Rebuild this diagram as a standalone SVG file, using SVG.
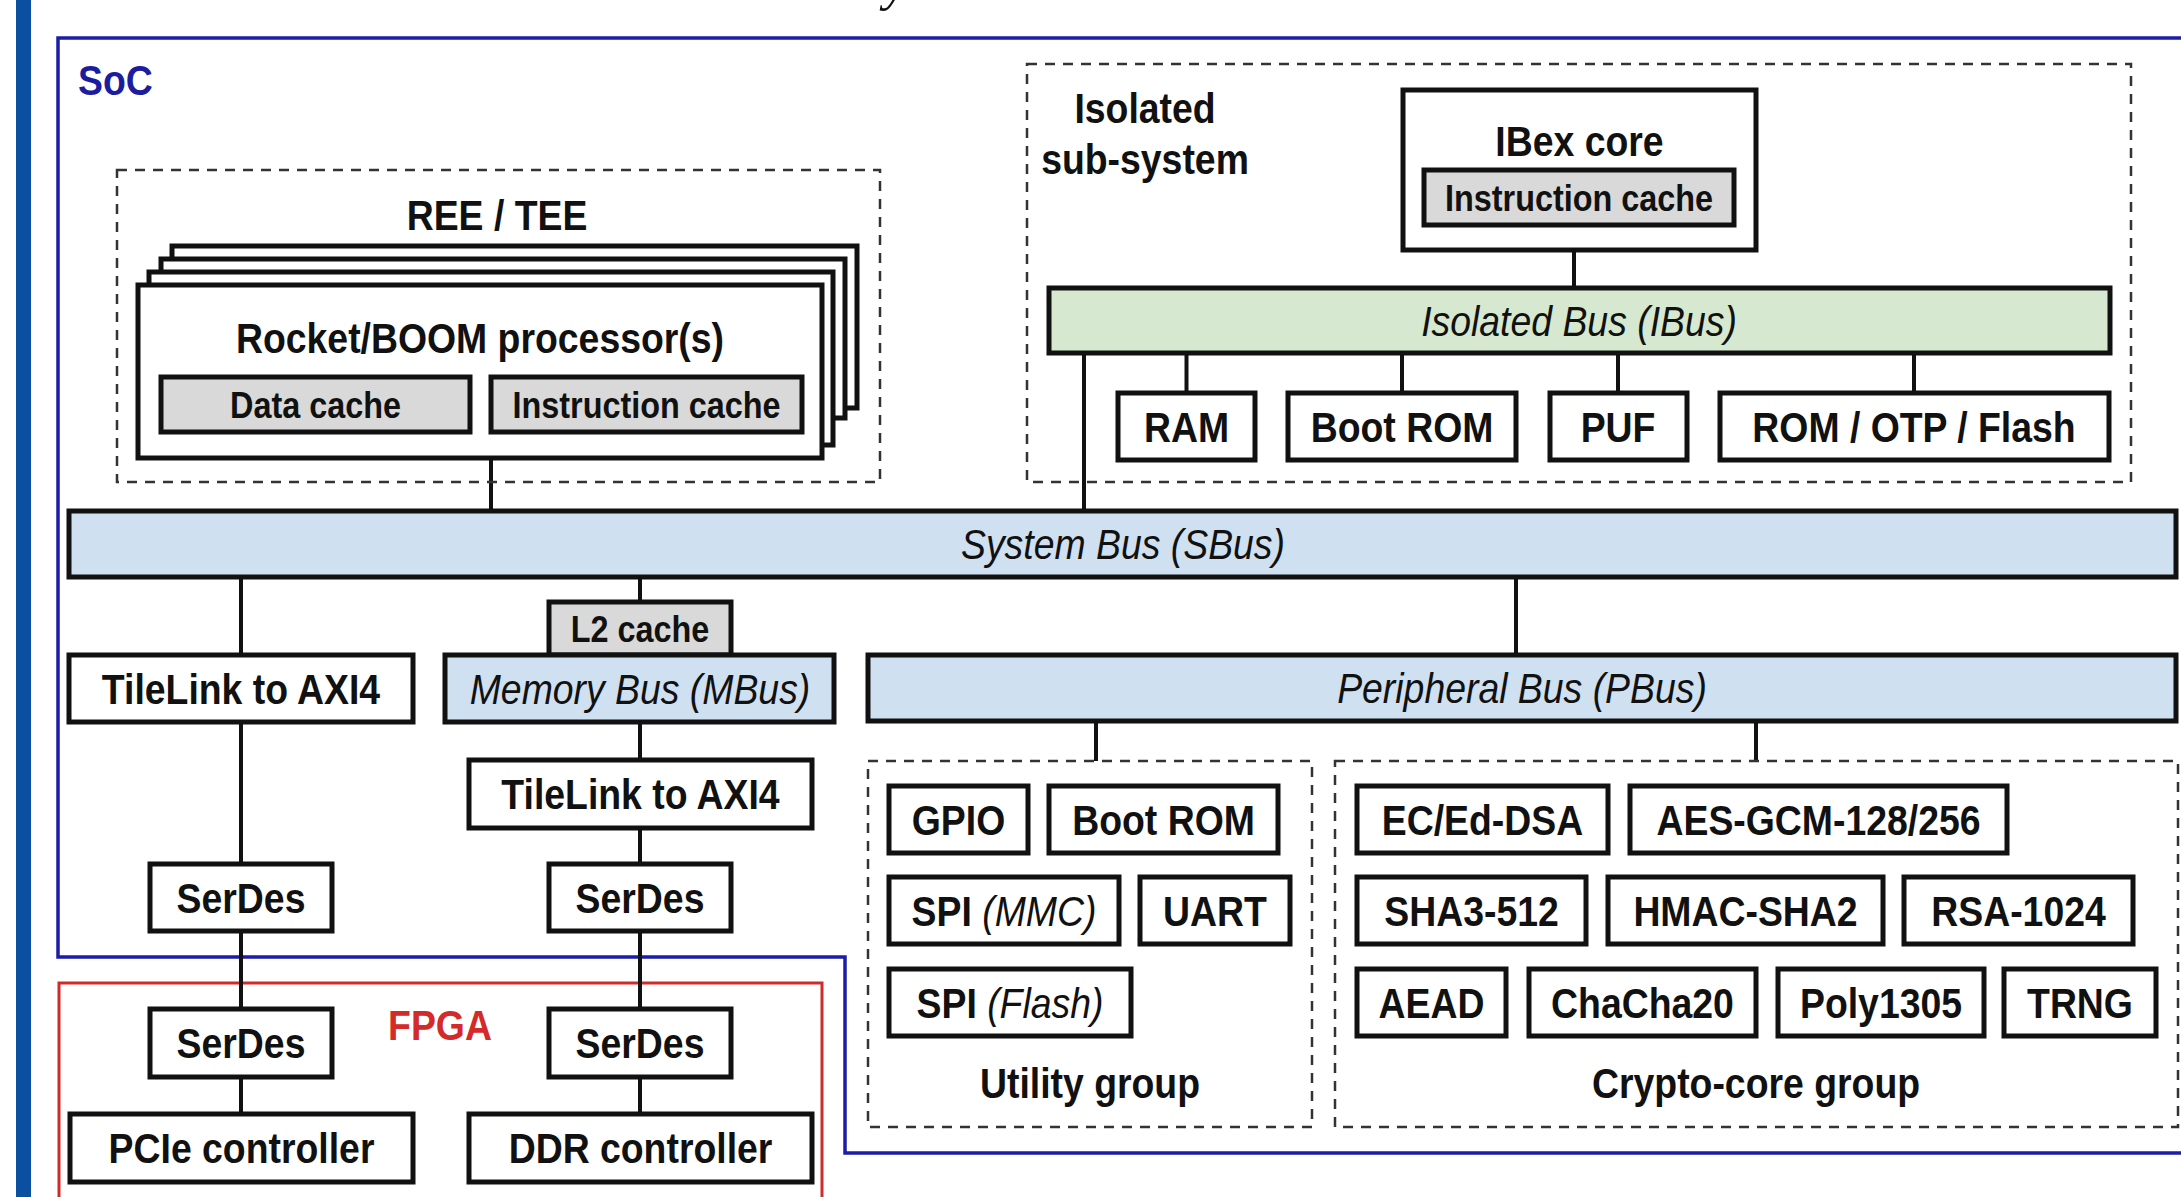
<svg xmlns="http://www.w3.org/2000/svg" width="2181" height="1197" viewBox="0 0 2181 1197">
<defs>
<style>
.bg{fill:#ffffff}
.box{fill:#ffffff;stroke:#111;stroke-width:5}
.gray{fill:#d9d9d9;stroke:#111;stroke-width:5}
.bus{fill:#cfe0f1;stroke:#111;stroke-width:5}
.ibus{fill:#d6e9d0;stroke:#111;stroke-width:5}
.dash{fill:none;stroke:#333;stroke-width:2.5;stroke-dasharray:10 8}
.wire{fill:none;stroke:#111;stroke-width:4}
.t{font-family:"Liberation Sans",Arial,sans-serif;font-weight:bold;font-size:42px;fill:#111;text-anchor:middle}
.sm{font-size:37px}
.it{font-style:italic;font-weight:normal}
</style>
</defs>
<rect class="bg" x="0" y="0" width="2181" height="1197"/>
<rect x="16" y="0" width="15" height="1197" fill="#0b50a0"/>
<text x="884" y="0" font-family="'Liberation Serif',serif" font-style="italic" font-size="52" fill="#111">y</text>

<g id="soc">
<path d="M2185 38 H58 V957 H845 V1153 H2185" fill="none" stroke="#1c1ca8" stroke-width="3.5"/>
<text class="t" transform="translate(78,95) scale(0.89,1)" style="text-anchor:start;fill:#1c1ca0">SoC</text>
</g>
<g id="fpga">
<path d="M59 1200 V983 H822 V1200" fill="none" stroke="#d02a2a" stroke-width="3"/>
<text class="t" transform="translate(440,1040) scale(0.89,1)" style="fill:#d42a2a">FPGA</text>
</g>

<g id="connectors">
<line class="wire" x1="491" y1="458" x2="491" y2="511"/>
<line class="wire" x1="1084" y1="353" x2="1084" y2="511"/>
<line class="wire" x1="1574" y1="250" x2="1574" y2="288"/>
<line class="wire" x1="1186.5" y1="353" x2="1186.5" y2="393"/>
<line class="wire" x1="1402" y1="353" x2="1402" y2="393"/>
<line class="wire" x1="1618" y1="353" x2="1618" y2="393"/>
<line class="wire" x1="1914" y1="353" x2="1914" y2="393"/>
<line class="wire" x1="241" y1="577" x2="241" y2="655"/>
<line class="wire" x1="640" y1="577" x2="640" y2="602"/>
<line class="wire" x1="640" y1="722" x2="640" y2="760"/>
<line class="wire" x1="640" y1="828" x2="640" y2="864"/>
<line class="wire" x1="241" y1="722" x2="241" y2="864"/>
<line class="wire" x1="241" y1="931" x2="241" y2="1009"/>
<line class="wire" x1="640" y1="931" x2="640" y2="1009"/>
<line class="wire" x1="241" y1="1077" x2="241" y2="1114"/>
<line class="wire" x1="640" y1="1077" x2="640" y2="1114"/>
<line class="wire" x1="1516" y1="577" x2="1516" y2="655"/>
<line class="wire" x1="1096" y1="721" x2="1096" y2="761"/>
<line class="wire" x1="1756" y1="721" x2="1756" y2="761"/>
</g>

<g id="ree-tee">
<rect class="dash" x="117" y="170" width="763" height="312"/>
<text class="t" transform="translate(497,230) scale(0.89,1)">REE / TEE</text>
</g>
<g id="rocket">
<rect class="box" x="172" y="246" width="685" height="162"/>
<rect class="box" x="161" y="259" width="684" height="159"/>
<rect class="box" x="149" y="272" width="684" height="173"/>
<rect class="box" x="138" y="285" width="684" height="173"/>
<text class="t" transform="translate(480,353) scale(0.89,1)">Rocket/BOOM processor(s)</text>
</g>
<g id="data-cache">
<rect class="gray" x="161" y="377" width="309" height="55"/>
<text class="t sm" transform="translate(315.5,418) scale(0.875,1)">Data cache</text>
</g>
<g id="instr-cache">
<rect class="gray" x="491" y="377" width="311" height="55"/>
<text class="t sm" transform="translate(646.5,418) scale(0.875,1)">Instruction cache</text>
</g>

<g id="isolated">
<rect class="dash" x="1027" y="64" width="1104" height="418"/>
<text class="t" transform="translate(1145,123) scale(0.89,1)">Isolated</text>
<text class="t" transform="translate(1145,174) scale(0.89,1)">sub-system</text>
</g>
<g id="ibex">
<rect class="box" x="1403" y="90" width="353" height="160"/>
<text class="t" transform="translate(1579.5,156) scale(0.89,1)">IBex core</text>
</g>
<g id="ibex-icache">
<rect class="gray" x="1424" y="170" width="310" height="55"/>
<text class="t sm" transform="translate(1579,211) scale(0.875,1)">Instruction cache</text>
</g>
<g id="ibus">
<rect class="ibus" x="1049" y="288" width="1061" height="65"/>
<text class="t it" transform="translate(1579,336) scale(0.89,1)">Isolated Bus (IBus)</text>
</g>
<g id="ram">
<rect class="box" x="1118" y="393" width="137" height="67"/>
<text class="t" transform="translate(1186.5,441.5) scale(0.89,1)">RAM</text>
</g>
<g id="iboot">
<rect class="box" x="1288" y="393" width="228" height="67"/>
<text class="t" transform="translate(1402,441.5) scale(0.89,1)">Boot ROM</text>
</g>
<g id="puf">
<rect class="box" x="1550" y="393" width="137" height="67"/>
<text class="t" transform="translate(1618,441.5) scale(0.89,1)">PUF</text>
</g>
<g id="rom-otp">
<rect class="box" x="1720" y="393" width="389" height="67"/>
<text class="t" transform="translate(1914,441.5) scale(0.89,1)">ROM / OTP / Flash</text>
</g>

<g id="sbus">
<rect class="bus" x="69" y="511" width="2107" height="66"/>
<text class="t it" transform="translate(1123,559) scale(0.89,1)">System Bus (SBus)</text>
</g>
<g id="tl1">
<rect class="box" x="69" y="655" width="344" height="67"/>
<text class="t" transform="translate(241,703.5) scale(0.89,1)">TileLink to AXI4</text>
</g>
<g id="l2">
<rect class="gray" x="549" y="602" width="182" height="53"/>
<text class="t sm" transform="translate(640,642) scale(0.875,1)">L2 cache</text>
</g>
<g id="mbus">
<rect class="bus" x="445" y="655" width="389" height="67"/>
<text class="t it" transform="translate(640,703.5) scale(0.89,1)">Memory Bus (MBus)</text>
</g>
<g id="tl2">
<rect class="box" x="469" y="760" width="343" height="68"/>
<text class="t" transform="translate(640.5,809) scale(0.89,1)">TileLink to AXI4</text>
</g>
<g id="serdes1">
<rect class="box" x="150" y="864" width="182" height="67"/>
<text class="t" transform="translate(241,912.5) scale(0.89,1)">SerDes</text>
</g>
<g id="serdes2">
<rect class="box" x="549" y="864" width="182" height="67"/>
<text class="t" transform="translate(640,912.5) scale(0.89,1)">SerDes</text>
</g>
<g id="serdes3">
<rect class="box" x="150" y="1009" width="182" height="68"/>
<text class="t" transform="translate(241,1058) scale(0.89,1)">SerDes</text>
</g>
<g id="serdes4">
<rect class="box" x="549" y="1009" width="182" height="68"/>
<text class="t" transform="translate(640,1058) scale(0.89,1)">SerDes</text>
</g>
<g id="pcie">
<rect class="box" x="70" y="1114" width="343" height="68"/>
<text class="t" transform="translate(241.5,1163) scale(0.89,1)">PCIe controller</text>
</g>
<g id="ddr">
<rect class="box" x="469" y="1114" width="343" height="68"/>
<text class="t" transform="translate(640.5,1163) scale(0.89,1)">DDR controller</text>
</g>

<g id="pbus">
<rect class="bus" x="868" y="655" width="1308" height="66"/>
<text class="t it" transform="translate(1522,703) scale(0.89,1)">Peripheral Bus (PBus)</text>
</g>

<g id="utility">
<rect class="dash" x="868" y="761" width="444" height="366"/>
<text class="t" transform="translate(1090,1098) scale(0.89,1)">Utility group</text>
</g>
<g id="gpio">
<rect class="box" x="889" y="786" width="139" height="67"/>
<text class="t" transform="translate(958.5,834.5) scale(0.89,1)">GPIO</text>
</g>
<g id="uboot">
<rect class="box" x="1049" y="786" width="229" height="67"/>
<text class="t" transform="translate(1163.5,834.5) scale(0.89,1)">Boot ROM</text>
</g>
<g id="spi-mmc">
<rect class="box" x="889" y="877" width="230" height="67"/>
<text class="t" transform="translate(1004,925.5) scale(0.89,1)">SPI <tspan class="it">(MMC)</tspan></text>
</g>
<g id="uart">
<rect class="box" x="1140" y="877" width="150" height="67"/>
<text class="t" transform="translate(1215,925.5) scale(0.89,1)">UART</text>
</g>
<g id="spi-flash">
<rect class="box" x="889" y="969" width="242" height="67"/>
<text class="t" transform="translate(1010,1017.5) scale(0.89,1)">SPI <tspan class="it">(Flash)</tspan></text>
</g>

<g id="crypto">
<rect class="dash" x="1335" y="761" width="843" height="366"/>
<text class="t" transform="translate(1756,1098) scale(0.89,1)">Crypto-core group</text>
</g>
<g id="ecdsa">
<rect class="box" x="1357" y="786" width="251" height="67"/>
<text class="t" transform="translate(1482.5,834.5) scale(0.89,1)">EC/Ed-DSA</text>
</g>
<g id="aes">
<rect class="box" x="1630" y="786" width="377" height="67"/>
<text class="t" transform="translate(1818.5,834.5) scale(0.89,1)">AES-GCM-128/256</text>
</g>
<g id="sha3">
<rect class="box" x="1357" y="877" width="229" height="67"/>
<text class="t" transform="translate(1471.5,925.5) scale(0.89,1)">SHA3-512</text>
</g>
<g id="hmac">
<rect class="box" x="1608" y="877" width="275" height="67"/>
<text class="t" transform="translate(1745.5,925.5) scale(0.89,1)">HMAC-SHA2</text>
</g>
<g id="rsa">
<rect class="box" x="1904" y="877" width="229" height="67"/>
<text class="t" transform="translate(2018.5,925.5) scale(0.89,1)">RSA-1024</text>
</g>
<g id="aead">
<rect class="box" x="1357" y="969" width="149" height="67"/>
<text class="t" transform="translate(1431.5,1017.5) scale(0.89,1)">AEAD</text>
</g>
<g id="chacha">
<rect class="box" x="1529" y="969" width="227" height="67"/>
<text class="t" transform="translate(1642.5,1017.5) scale(0.89,1)">ChaCha20</text>
</g>
<g id="poly">
<rect class="box" x="1778" y="969" width="206" height="67"/>
<text class="t" transform="translate(1881,1017.5) scale(0.89,1)">Poly1305</text>
</g>
<g id="trng">
<rect class="box" x="2004" y="969" width="152" height="67"/>
<text class="t" transform="translate(2080,1017.5) scale(0.89,1)">TRNG</text>
</g>
</svg>
